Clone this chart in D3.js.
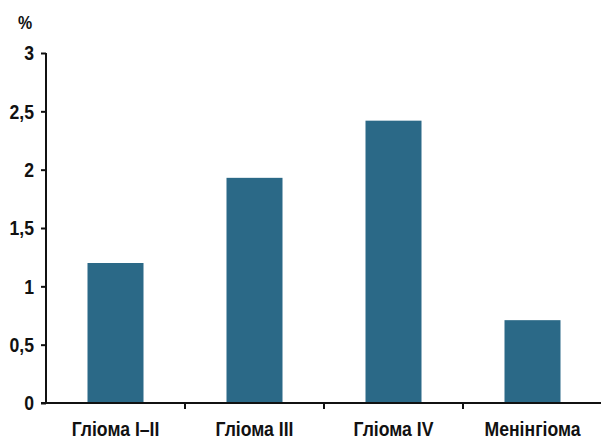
<!DOCTYPE html>
<html>
<head>
<meta charset="utf-8">
<script src="https://cdn.jsdelivr.net/npm/d3@7"></script>
<style>
  body { margin: 0; background: #fff; }
  svg { display: block; font-family: "Liberation Sans Narrow", "Liberation Sans", Arial, sans-serif; }
</style>
</head>
<body>
<div id="chart"></div>
<script>
const categories = ["Гліома I–II", "Гліома III", "Гліома IV", "Менінгіома"];
const values = [1.2, 1.93, 2.42, 0.71];
const yTicks = [0, 0.5, 1, 1.5, 2, 2.5, 3];

const width = 601;
const height = 440;
const marginTop = 53;
const marginRight = 0;
const marginBottom = 37;
const marginLeft = 46;

// condensed look: the narrow face isn't always there, squeeze horizontally
const squeeze = 0.84;

const svg = d3.select("#chart").append("svg")
  .attr("width", width)
  .attr("height", height);

const x = d3.scaleBand()
  .domain(categories)
  .range([marginLeft, width - marginRight + 1])
  .paddingInner(0)
  .paddingOuter(0);

const y = d3.scaleLinear()
  .domain([0, 3])
  .range([height - marginBottom, marginTop]);

const barW = 56;

// bars
svg.append("g")
  .attr("fill", "#2b6987")
  .selectAll("rect")
  .data(values)
  .join("rect")
    .attr("x", (d, i) => x(categories[i]) + x.bandwidth() / 2 - barW / 2)
    .attr("y", d => y(d))
    .attr("width", barW)
    .attr("height", d => y(0) - y(d));

// y axis
const yAxis = svg.append("g")
  .attr("transform", `translate(${marginLeft},0)`)
  .call(d3.axisLeft(y)
    .tickValues(yTicks)
    .tickSize(5)
    .tickFormat(d => String(d).replace(".", ",")));

yAxis.select(".domain").attr("stroke", "#111").attr("stroke-width", 2)
  .attr("d", `M0,${y(3)}V${y(0)}`);
yAxis.selectAll(".tick line").attr("stroke", "#111").attr("stroke-width", 2);
yAxis.selectAll(".tick text")
  .attr("fill", "#111")
  .attr("x", -12 / squeeze)
  .attr("transform", `scale(${squeeze},1)`)
  .style("font-size", "21px")
  .style("font-weight", "bold");

// x axis
const xAxis = svg.append("g")
  .attr("transform", `translate(0,${y(0)})`)
  .call(d3.axisBottom(x).tickSize(0));

xAxis.select(".domain").attr("stroke", "#111").attr("stroke-width", 2)
  .attr("d", `M${marginLeft - 5},0H${width}`);
xAxis.selectAll(".tick text")
  .attr("fill", "#111")
  .attr("y", 33)
  .attr("dy", 0)
  .attr("transform", `scale(${squeeze},1)`)
  .style("font-size", "21px")
  .style("font-weight", "bold");

// boundary ticks between categories
xAxis.append("g")
  .selectAll("line")
  .data(categories.slice(1))
  .join("line")
    .attr("x1", d => x(d))
    .attr("x2", d => x(d))
    .attr("y1", 0)
    .attr("y2", 6)
    .attr("stroke", "#111")
    .attr("stroke-width", 2);

// unit label
svg.append("text")
  .attr("x", 18 / squeeze)
  .attr("y", 29)
  .attr("transform", `scale(${squeeze},1)`)
  .attr("fill", "#111")
  .style("font-size", "19px")
  .style("font-weight", "bold")
  .text("%");
</script>
</body>
</html>
